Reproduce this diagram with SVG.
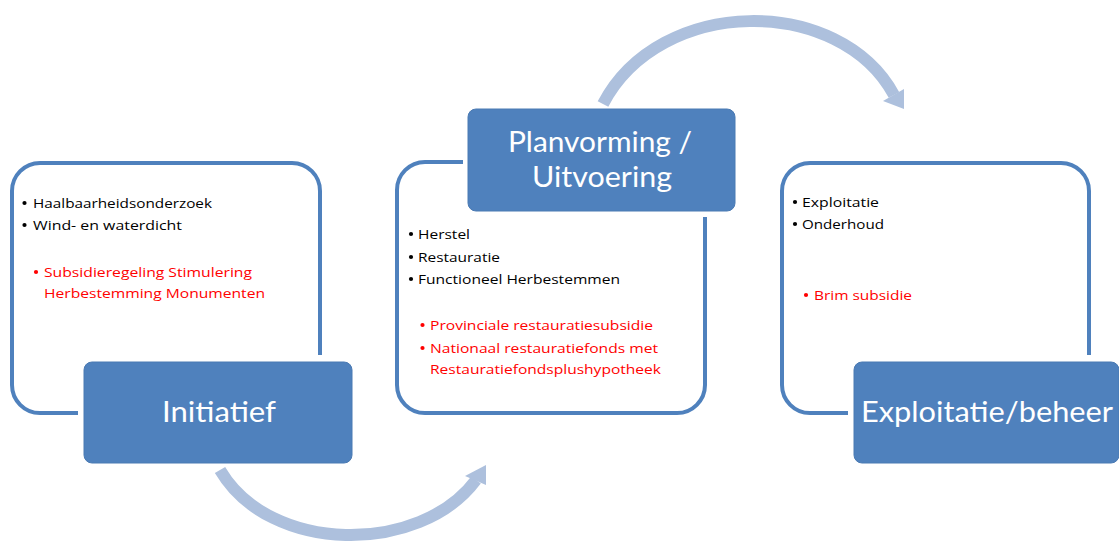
<svg xmlns="http://www.w3.org/2000/svg" width="1119" height="543" viewBox="0 0 1119 543">
<defs>
<style>
.frame{fill:none;stroke:#4f81bd;stroke-width:4;stroke-linecap:butt}
.head{fill:#4f81bd;stroke:#4a7ab3;stroke-width:1}
.title{font-family:Lato,"Open Sans","Liberation Sans",sans-serif;font-size:29px;fill:#ffffff}
.t{font-family:"Open Sans","Liberation Sans",sans-serif;font-size:13px;fill:#000000}
.r{fill:#ff0000}
.arc{fill:none;stroke:#adc0dd;stroke-width:12}
.ah{fill:#adc0dd}
.bk{fill:#000000}
.br{fill:#ff0000}
</style>
</defs>
<rect width="1119" height="543" fill="#ffffff"/>
<g id="connectors">
<path class="arc" d="M220,470 C270,555 420,555 476,480"/>
<polygon class="ah" points="465,476 486,465 486,485"/>
<path class="arc" d="M603,104 C660,-5 840,-5 894,95"/>
<polygon class="ah" points="883,101 904,89 904,109"/>
</g>
<g id="initiatief">
<path class="frame" d="M78,413 H40 A28,28 0 0 1 12,385 V191 A28,28 0 0 1 40,163 H292 A28,28 0 0 1 320,191 V355"/>
<circle class="bk" cx="24.5" cy="203" r="2.1"/>
<text class="t" x="33" y="208" textLength="179" lengthAdjust="spacingAndGlyphs">Haalbaarheidsonderzoek</text>
<circle class="bk" cx="24.5" cy="225" r="2.1"/>
<text class="t" x="33" y="230" textLength="149" lengthAdjust="spacingAndGlyphs">Wind- en waterdicht</text>
<circle class="br" cx="36" cy="272" r="2.1"/>
<text class="t r" x="44" y="277" textLength="208" lengthAdjust="spacingAndGlyphs">Subsidieregeling Stimulering</text>
<text class="t r" x="44" y="298" textLength="221" lengthAdjust="spacingAndGlyphs">Herbestemming Monumenten</text>
<rect class="head" x="84" y="362" width="268" height="101" rx="8"/>
<text class="title" x="219" y="422" text-anchor="middle" textLength="114" lengthAdjust="spacingAndGlyphs">Initiatief</text>
</g>
<g id="planvorming">
<path class="frame" d="M463,162 H425 A28,28 0 0 0 397,190 V385 A28,28 0 0 0 425,413 H677 A28,28 0 0 0 705,385 V217"/>
<circle class="bk" cx="411" cy="234" r="2.1"/>
<text class="t" x="418" y="239" textLength="52" lengthAdjust="spacingAndGlyphs">Herstel</text>
<circle class="bk" cx="411" cy="257" r="2.1"/>
<text class="t" x="418" y="262" textLength="82" lengthAdjust="spacingAndGlyphs">Restauratie</text>
<circle class="bk" cx="411" cy="279" r="2.1"/>
<text class="t" x="418" y="284" textLength="202" lengthAdjust="spacingAndGlyphs">Functioneel Herbestemmen</text>
<circle class="br" cx="422.5" cy="325" r="2.1"/>
<text class="t r" x="430" y="330" textLength="223" lengthAdjust="spacingAndGlyphs">Provinciale restauratiesubsidie</text>
<circle class="br" cx="422.5" cy="348" r="2.1"/>
<text class="t r" x="430" y="353" textLength="228" lengthAdjust="spacingAndGlyphs">Nationaal restauratiefonds met</text>
<text class="t r" x="430" y="374" textLength="231" lengthAdjust="spacingAndGlyphs">Restauratiefondsplushypotheek</text>
<rect class="head" x="468" y="109" width="267" height="102" rx="8"/>
<text class="title" x="600" y="152" text-anchor="middle" textLength="184" lengthAdjust="spacingAndGlyphs">Planvorming /</text>
<text class="title" x="602" y="187" text-anchor="middle" textLength="140" lengthAdjust="spacingAndGlyphs">Uitvoering</text>
</g>
<g id="exploitatie">
<path class="frame" d="M848,413 H810 A28,28 0 0 1 782,385 V191 A28,28 0 0 1 810,163 H1061 A28,28 0 0 1 1089,191 V355"/>
<circle class="bk" cx="795" cy="202" r="2.1"/>
<text class="t" x="802" y="207" textLength="77" lengthAdjust="spacingAndGlyphs">Exploitatie</text>
<circle class="bk" cx="795" cy="224" r="2.1"/>
<text class="t" x="802" y="229" textLength="82" lengthAdjust="spacingAndGlyphs">Onderhoud</text>
<circle class="br" cx="806" cy="295" r="2.1"/>
<text class="t r" x="814" y="300" textLength="98" lengthAdjust="spacingAndGlyphs">Brim subsidie</text>
<rect class="head" x="854" y="362" width="265" height="101" rx="8"/>
<text class="title" x="987" y="422" text-anchor="middle" textLength="252" lengthAdjust="spacingAndGlyphs">Exploitatie/beheer</text>
</g>
</svg>
